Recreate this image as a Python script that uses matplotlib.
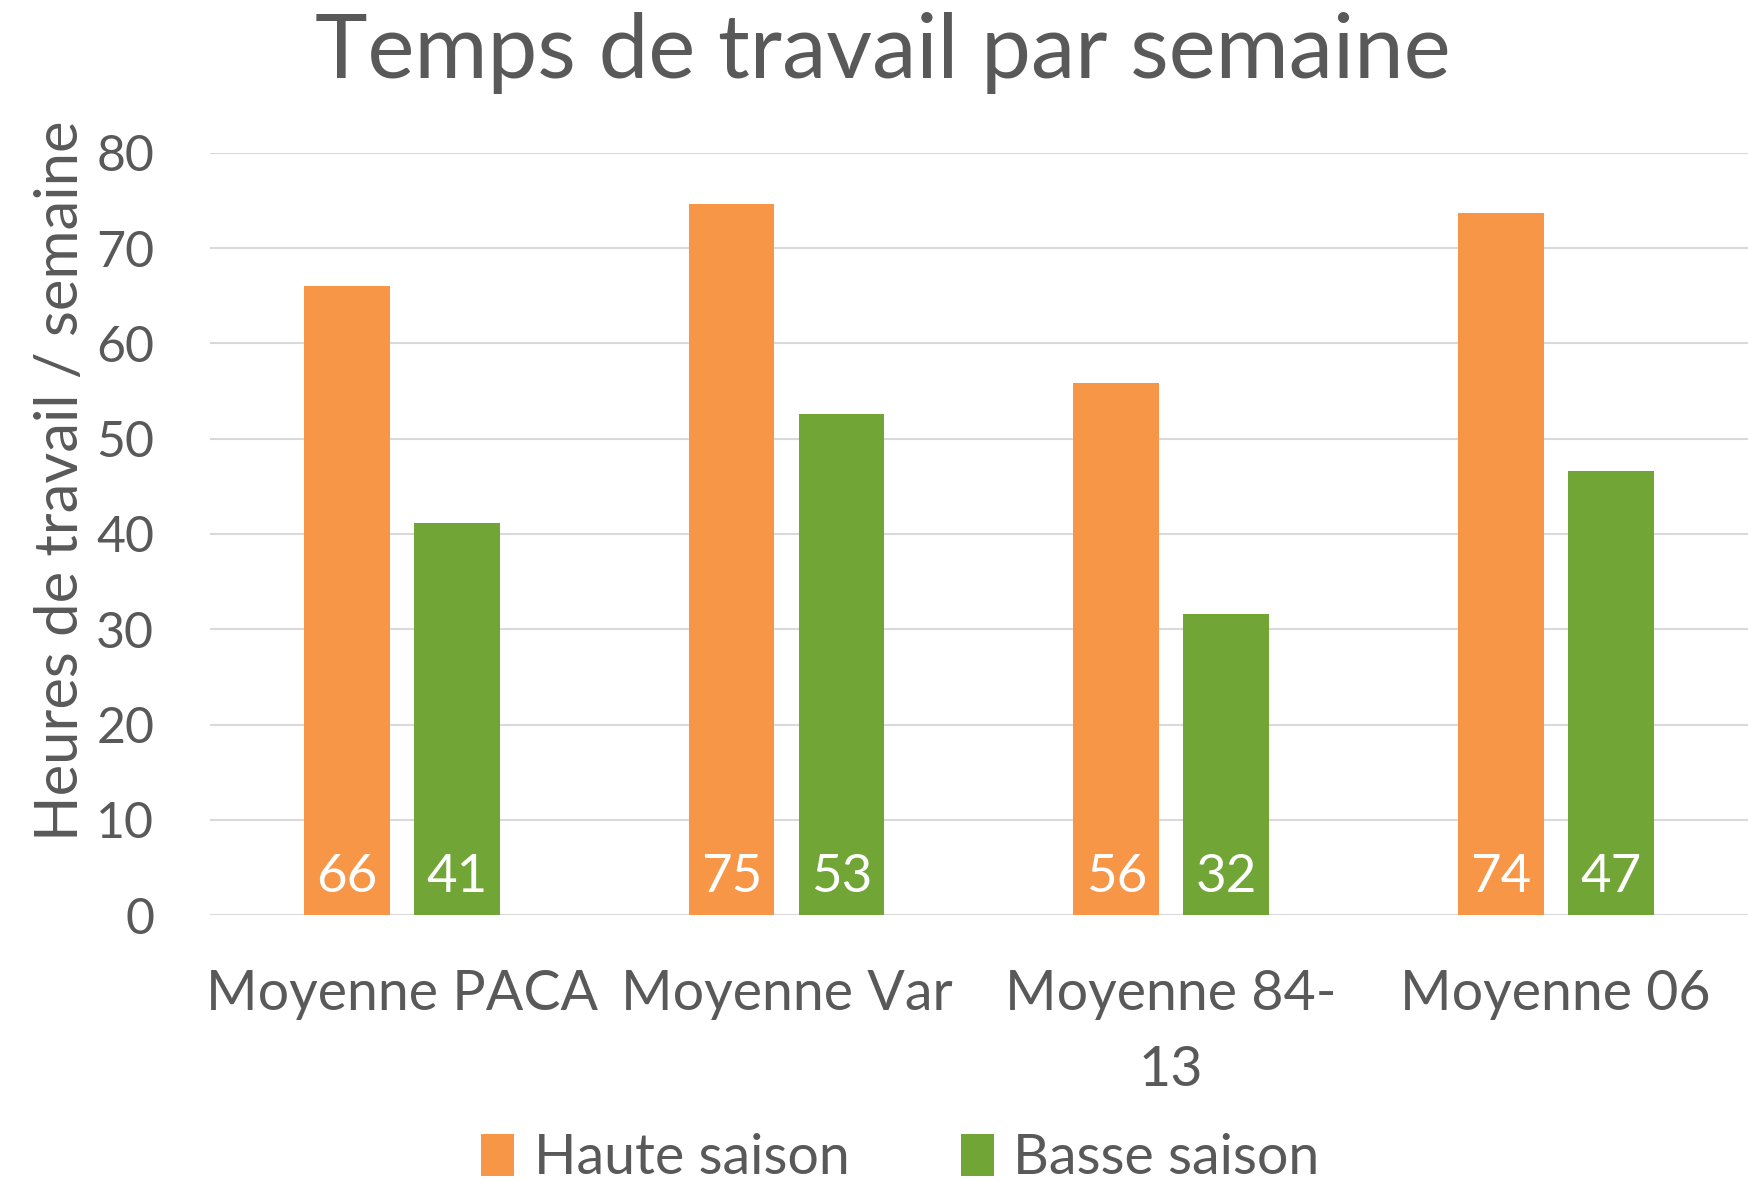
import numpy as np
import matplotlib
matplotlib.use("Agg")
import matplotlib.pyplot as plt

plt.rcParams['font.family'] = ['Lato', 'DejaVu Sans']

categories = ["Moyenne PACA", "Moyenne Var", "Moyenne 84-\n13", "Moyenne 06"]
haute = [66.0, 74.6, 55.9, 73.7]
basse = [41.2, 52.6, 31.6, 46.6]
series_names = ["Haute saison", "Basse saison"]
yticks = [0, 10, 20, 30, 40, 50, 60, 70, 80]

gris = "#595959"
orange = "#F79646"
vert = "#71A637"

fig = plt.figure(figsize=(17.48, 11.81), dpi=100)
ax = fig.add_axes([0.120, 0.2252, 0.88, 0.6453])

x = np.arange(len(categories))
w = 0.223
off = 0.143
b1 = ax.bar(x - off, haute, w, color=orange, label=series_names[0], zorder=3)
b2 = ax.bar(x + off, basse, w, color=vert, label=series_names[1], zorder=3)

for bars in (b1, b2):
    for r in bars:
        ax.annotate(f"{round(r.get_height()):d}", (r.get_x() + r.get_width() / 2, 0),
                    xytext=(0, 10), textcoords="offset points", ha="center", va="bottom",
                    color="white", fontsize=38, zorder=4)

ax.set_xlim(-0.5, 3.5)
ax.set_ylim(0, 80)
ax.set_yticks(yticks)
ax.set_xticks(x)
ax.set_xticklabels(categories, fontsize=40, color=gris, linespacing=1.6)
ax.tick_params(axis="y", labelsize=36, colors=gris, length=0, pad=40)
ax.tick_params(axis="x", length=0, pad=39)
ax.grid(axis="y", color="#D9D9D9", linewidth=1.5, zorder=0)
for s in ax.spines.values():
    s.set_visible(False)

ax.set_ylabel("Heures de travail / semaine", fontsize=43, color=gris)
ax.yaxis.set_label_coords(-0.079, 0.57)
fig.suptitle("Temps de travail par semaine", fontsize=64, color=gris, y=0.99, x=0.505)

fig.legend(loc="lower center", bbox_to_anchor=(0.515, -0.045), ncol=2, frameon=False,
           fontsize=40, labelcolor=gris, handlelength=0.6, handleheight=0.8,
           handletextpad=0.35, columnspacing=2.0)

fig.savefig("out.png", dpi=100)
